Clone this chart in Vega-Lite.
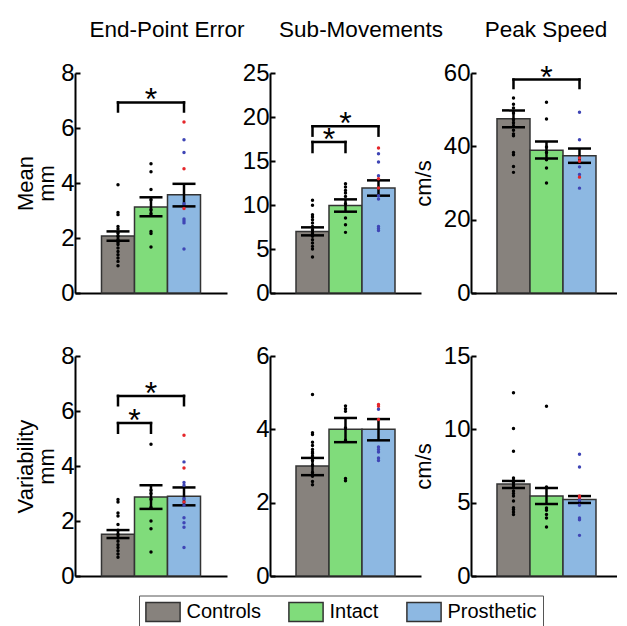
{
  "$schema": "https://vega.github.io/schema/vega-lite/v6.json",
  "padding": {"left": 14, "top": 18, "right": 0, "bottom": 0},
  "config": {
    "font": "Liberation Sans",
    "view": {"stroke": null},
    "axis": {"grid": false, "domainColor": "#000", "domainWidth": 2, "tickColor": "#000", "tickWidth": 2, "tickSize": -5, "labelPadding": 6, "labelColor": "#000", "labelFontSize": 24, "titleFontSize": 22, "titleFontWeight": "normal", "titleColor": "#000", "titleLineHeight": 21, "titlePadding": 2},
    "title": {"fontSize": 22.5, "fontWeight": "normal", "color": "#000", "anchor": "middle", "frame": "group", "offset": 20, "baseline": "alphabetic"}
  },
  "columns": 3,
  "spacing": {"row": 63, "column": 43},
  "bounds": "flush",
  "resolve": {"scale": {"x": "independent", "y": "independent", "fill": "independent", "color": "independent"}, "legend": {"fill": "independent", "color": "independent"}},
  "datasets": {
    "bars": [
      {"panel": "EPE_mean", "group": "Controls", "mean": 2.07, "lo": 1.90, "hi": 2.24},
      {"panel": "EPE_mean", "group": "Intact", "mean": 3.13, "lo": 2.79, "hi": 3.48},
      {"panel": "EPE_mean", "group": "Prosthetic", "mean": 3.57, "lo": 3.15, "hi": 3.97},
      {"panel": "SM_mean", "group": "Controls", "mean": 7.0, "lo": 6.55, "hi": 7.46},
      {"panel": "SM_mean", "group": "Intact", "mean": 9.95, "lo": 9.24, "hi": 10.64},
      {"panel": "SM_mean", "group": "Prosthetic", "mean": 11.93, "lo": 11.06, "hi": 12.8},
      {"panel": "PS_mean", "group": "Controls", "mean": 47.5, "lo": 45.2, "hi": 49.8},
      {"panel": "PS_mean", "group": "Intact", "mean": 38.9, "lo": 36.7, "hi": 41.35},
      {"panel": "PS_mean", "group": "Prosthetic", "mean": 37.4, "lo": 35.5, "hi": 39.4},
      {"panel": "EPE_var", "group": "Controls", "mean": 1.52, "lo": 1.38, "hi": 1.67},
      {"panel": "EPE_var", "group": "Intact", "mean": 2.87, "lo": 2.44, "hi": 3.30},
      {"panel": "EPE_var", "group": "Prosthetic", "mean": 2.9, "lo": 2.57, "hi": 3.22},
      {"panel": "SM_var", "group": "Controls", "mean": 3.0, "lo": 2.75, "hi": 3.22},
      {"panel": "SM_var", "group": "Intact", "mean": 4.0, "lo": 3.65, "hi": 4.31},
      {"panel": "SM_var", "group": "Prosthetic", "mean": 4.0, "lo": 3.70, "hi": 4.28},
      {"panel": "PS_var", "group": "Controls", "mean": 6.27, "lo": 6.0, "hi": 6.48},
      {"panel": "PS_var", "group": "Intact", "mean": 5.45, "lo": 4.91, "hi": 6.0},
      {"panel": "PS_var", "group": "Prosthetic", "mean": 5.21, "lo": 4.98, "hi": 5.45}
    ],
    "brackets": [
      {"panel": "EPE_mean", "from": "Controls", "to": "Prosthetic", "top": 6.93, "bottom": 6.60, "label": "*"},
      {"panel": "SM_mean", "from": "Controls", "to": "Prosthetic", "top": 18.94, "bottom": 17.88, "label": "*"},
      {"panel": "SM_mean", "from": "Controls", "to": "Intact", "top": 17.16, "bottom": 16.02, "label": "*"},
      {"panel": "PS_mean", "from": "Controls", "to": "Prosthetic", "top": 58.2, "bottom": 55.9, "label": "*"},
      {"panel": "EPE_var", "from": "Controls", "to": "Prosthetic", "top": 6.55, "bottom": 6.21, "label": "*"},
      {"panel": "EPE_var", "from": "Controls", "to": "Intact", "top": 5.56, "bottom": 5.21, "label": "*"}
    ],
    "dots": [
      {"panel": "EPE_mean", "group": "Controls", "cohort": "Controls", "value": 3.94},
      {"panel": "EPE_mean", "group": "Controls", "cohort": "Controls", "value": 2.93},
      {"panel": "EPE_mean", "group": "Controls", "cohort": "Controls", "value": 2.85},
      {"panel": "EPE_mean", "group": "Controls", "cohort": "Controls", "value": 2.42},
      {"panel": "EPE_mean", "group": "Controls", "cohort": "Controls", "value": 2.33},
      {"panel": "EPE_mean", "group": "Controls", "cohort": "Controls", "value": 2.18},
      {"panel": "EPE_mean", "group": "Controls", "cohort": "Controls", "value": 2.06},
      {"panel": "EPE_mean", "group": "Controls", "cohort": "Controls", "value": 1.94},
      {"panel": "EPE_mean", "group": "Controls", "cohort": "Controls", "value": 1.84},
      {"panel": "EPE_mean", "group": "Controls", "cohort": "Controls", "value": 1.76},
      {"panel": "EPE_mean", "group": "Controls", "cohort": "Controls", "value": 1.64},
      {"panel": "EPE_mean", "group": "Controls", "cohort": "Controls", "value": 1.51},
      {"panel": "EPE_mean", "group": "Controls", "cohort": "Controls", "value": 1.39},
      {"panel": "EPE_mean", "group": "Controls", "cohort": "Controls", "value": 1.27},
      {"panel": "EPE_mean", "group": "Controls", "cohort": "Controls", "value": 1.15},
      {"panel": "EPE_mean", "group": "Controls", "cohort": "Controls", "value": 0.99},
      {"panel": "EPE_mean", "group": "Intact", "cohort": "Intact", "value": 4.70},
      {"panel": "EPE_mean", "group": "Intact", "cohort": "Intact", "value": 4.41},
      {"panel": "EPE_mean", "group": "Intact", "cohort": "Intact", "value": 3.76},
      {"panel": "EPE_mean", "group": "Intact", "cohort": "Intact", "value": 3.39},
      {"panel": "EPE_mean", "group": "Intact", "cohort": "Intact", "value": 3.03},
      {"panel": "EPE_mean", "group": "Intact", "cohort": "Intact", "value": 2.88},
      {"panel": "EPE_mean", "group": "Intact", "cohort": "Intact", "value": 2.24},
      {"panel": "EPE_mean", "group": "Intact", "cohort": "Intact", "value": 2.16},
      {"panel": "EPE_mean", "group": "Intact", "cohort": "Intact", "value": 1.67},
      {"panel": "EPE_mean", "group": "Prosthetic", "cohort": "Prosthetic B", "value": 6.22},
      {"panel": "EPE_mean", "group": "Prosthetic", "cohort": "Prosthetic", "value": 5.57},
      {"panel": "EPE_mean", "group": "Prosthetic", "cohort": "Prosthetic", "value": 5.11},
      {"panel": "EPE_mean", "group": "Prosthetic", "cohort": "Prosthetic B", "value": 4.52},
      {"panel": "EPE_mean", "group": "Prosthetic", "cohort": "Prosthetic", "value": 3.25},
      {"panel": "EPE_mean", "group": "Prosthetic", "cohort": "Prosthetic B", "value": 3.07},
      {"panel": "EPE_mean", "group": "Prosthetic", "cohort": "Prosthetic", "value": 2.69},
      {"panel": "EPE_mean", "group": "Prosthetic", "cohort": "Prosthetic", "value": 2.62},
      {"panel": "EPE_mean", "group": "Prosthetic", "cohort": "Prosthetic", "value": 2.55},
      {"panel": "EPE_mean", "group": "Prosthetic", "cohort": "Prosthetic", "value": 1.60},
      {"panel": "SM_mean", "group": "Controls", "cohort": "Controls", "value": 10.53},
      {"panel": "SM_mean", "group": "Controls", "cohort": "Controls", "value": 9.96},
      {"panel": "SM_mean", "group": "Controls", "cohort": "Controls", "value": 8.90},
      {"panel": "SM_mean", "group": "Controls", "cohort": "Controls", "value": 8.64},
      {"panel": "SM_mean", "group": "Controls", "cohort": "Controls", "value": 8.33},
      {"panel": "SM_mean", "group": "Controls", "cohort": "Controls", "value": 7.95},
      {"panel": "SM_mean", "group": "Controls", "cohort": "Controls", "value": 7.57},
      {"panel": "SM_mean", "group": "Controls", "cohort": "Controls", "value": 7.19},
      {"panel": "SM_mean", "group": "Controls", "cohort": "Controls", "value": 6.82},
      {"panel": "SM_mean", "group": "Controls", "cohort": "Controls", "value": 6.44},
      {"panel": "SM_mean", "group": "Controls", "cohort": "Controls", "value": 6.06},
      {"panel": "SM_mean", "group": "Controls", "cohort": "Controls", "value": 5.68},
      {"panel": "SM_mean", "group": "Controls", "cohort": "Controls", "value": 5.30},
      {"panel": "SM_mean", "group": "Controls", "cohort": "Controls", "value": 5.00},
      {"panel": "SM_mean", "group": "Controls", "cohort": "Controls", "value": 4.09},
      {"panel": "SM_mean", "group": "Intact", "cohort": "Intact", "value": 12.42},
      {"panel": "SM_mean", "group": "Intact", "cohort": "Intact", "value": 12.05},
      {"panel": "SM_mean", "group": "Intact", "cohort": "Intact", "value": 11.66},
      {"panel": "SM_mean", "group": "Intact", "cohort": "Intact", "value": 11.36},
      {"panel": "SM_mean", "group": "Intact", "cohort": "Intact", "value": 10.98},
      {"panel": "SM_mean", "group": "Intact", "cohort": "Intact", "value": 10.15},
      {"panel": "SM_mean", "group": "Intact", "cohort": "Intact", "value": 8.52},
      {"panel": "SM_mean", "group": "Intact", "cohort": "Intact", "value": 7.76},
      {"panel": "SM_mean", "group": "Intact", "cohort": "Intact", "value": 6.89},
      {"panel": "SM_mean", "group": "Prosthetic", "cohort": "Prosthetic B", "value": 16.48},
      {"panel": "SM_mean", "group": "Prosthetic", "cohort": "Prosthetic", "value": 15.83},
      {"panel": "SM_mean", "group": "Prosthetic", "cohort": "Prosthetic", "value": 14.89},
      {"panel": "SM_mean", "group": "Prosthetic", "cohort": "Prosthetic", "value": 13.33},
      {"panel": "SM_mean", "group": "Prosthetic", "cohort": "Prosthetic B", "value": 12.99},
      {"panel": "SM_mean", "group": "Prosthetic", "cohort": "Prosthetic B", "value": 11.93},
      {"panel": "SM_mean", "group": "Prosthetic", "cohort": "Prosthetic", "value": 11.06},
      {"panel": "SM_mean", "group": "Prosthetic", "cohort": "Prosthetic", "value": 10.68},
      {"panel": "SM_mean", "group": "Prosthetic", "cohort": "Prosthetic", "value": 7.57},
      {"panel": "SM_mean", "group": "Prosthetic", "cohort": "Prosthetic", "value": 7.34},
      {"panel": "SM_mean", "group": "Prosthetic", "cohort": "Prosthetic", "value": 7.11},
      {"panel": "PS_mean", "group": "Controls", "cohort": "Controls", "value": 53.2},
      {"panel": "PS_mean", "group": "Controls", "cohort": "Controls", "value": 51.5},
      {"panel": "PS_mean", "group": "Controls", "cohort": "Controls", "value": 50.45},
      {"panel": "PS_mean", "group": "Controls", "cohort": "Controls", "value": 49.1},
      {"panel": "PS_mean", "group": "Controls", "cohort": "Controls", "value": 47.3},
      {"panel": "PS_mean", "group": "Controls", "cohort": "Controls", "value": 46.4},
      {"panel": "PS_mean", "group": "Controls", "cohort": "Controls", "value": 45.4},
      {"panel": "PS_mean", "group": "Controls", "cohort": "Controls", "value": 44.4},
      {"panel": "PS_mean", "group": "Controls", "cohort": "Controls", "value": 43.4},
      {"panel": "PS_mean", "group": "Controls", "cohort": "Controls", "value": 42.9},
      {"panel": "PS_mean", "group": "Controls", "cohort": "Controls", "value": 38.3},
      {"panel": "PS_mean", "group": "Controls", "cohort": "Controls", "value": 37.7},
      {"panel": "PS_mean", "group": "Controls", "cohort": "Controls", "value": 34.5},
      {"panel": "PS_mean", "group": "Controls", "cohort": "Controls", "value": 32.9},
      {"panel": "PS_mean", "group": "Intact", "cohort": "Intact", "value": 52.0},
      {"panel": "PS_mean", "group": "Intact", "cohort": "Intact", "value": 47.45},
      {"panel": "PS_mean", "group": "Intact", "cohort": "Intact", "value": 39.8},
      {"panel": "PS_mean", "group": "Intact", "cohort": "Intact", "value": 38.3},
      {"panel": "PS_mean", "group": "Intact", "cohort": "Intact", "value": 36.35},
      {"panel": "PS_mean", "group": "Intact", "cohort": "Intact", "value": 34.1},
      {"panel": "PS_mean", "group": "Intact", "cohort": "Intact", "value": 30.0},
      {"panel": "PS_mean", "group": "Prosthetic", "cohort": "Prosthetic", "value": 49.3},
      {"panel": "PS_mean", "group": "Prosthetic", "cohort": "Prosthetic", "value": 41.8},
      {"panel": "PS_mean", "group": "Prosthetic", "cohort": "Prosthetic B", "value": 36.8},
      {"panel": "PS_mean", "group": "Prosthetic", "cohort": "Prosthetic B", "value": 35.9},
      {"panel": "PS_mean", "group": "Prosthetic", "cohort": "Prosthetic", "value": 34.4},
      {"panel": "PS_mean", "group": "Prosthetic", "cohort": "Prosthetic", "value": 32.3},
      {"panel": "PS_mean", "group": "Prosthetic", "cohort": "Prosthetic B", "value": 31.6},
      {"panel": "PS_mean", "group": "Prosthetic", "cohort": "Prosthetic", "value": 28.6},
      {"panel": "EPE_var", "group": "Controls", "cohort": "Controls", "value": 2.78},
      {"panel": "EPE_var", "group": "Controls", "cohort": "Controls", "value": 2.69},
      {"panel": "EPE_var", "group": "Controls", "cohort": "Controls", "value": 2.29},
      {"panel": "EPE_var", "group": "Controls", "cohort": "Controls", "value": 2.18},
      {"panel": "EPE_var", "group": "Controls", "cohort": "Controls", "value": 1.87},
      {"panel": "EPE_var", "group": "Controls", "cohort": "Controls", "value": 1.66},
      {"panel": "EPE_var", "group": "Controls", "cohort": "Controls", "value": 1.51},
      {"panel": "EPE_var", "group": "Controls", "cohort": "Controls", "value": 1.38},
      {"panel": "EPE_var", "group": "Controls", "cohort": "Controls", "value": 1.26},
      {"panel": "EPE_var", "group": "Controls", "cohort": "Controls", "value": 1.14},
      {"panel": "EPE_var", "group": "Controls", "cohort": "Controls", "value": 1.04},
      {"panel": "EPE_var", "group": "Controls", "cohort": "Controls", "value": 0.92},
      {"panel": "EPE_var", "group": "Controls", "cohort": "Controls", "value": 0.80},
      {"panel": "EPE_var", "group": "Controls", "cohort": "Controls", "value": 0.68},
      {"panel": "EPE_var", "group": "Intact", "cohort": "Intact", "value": 4.79},
      {"panel": "EPE_var", "group": "Intact", "cohort": "Intact", "value": 3.12},
      {"panel": "EPE_var", "group": "Intact", "cohort": "Intact", "value": 3.00},
      {"panel": "EPE_var", "group": "Intact", "cohort": "Intact", "value": 2.79},
      {"panel": "EPE_var", "group": "Intact", "cohort": "Intact", "value": 2.49},
      {"panel": "EPE_var", "group": "Intact", "cohort": "Intact", "value": 2.00},
      {"panel": "EPE_var", "group": "Intact", "cohort": "Intact", "value": 1.72},
      {"panel": "EPE_var", "group": "Intact", "cohort": "Intact", "value": 0.87},
      {"panel": "EPE_var", "group": "Prosthetic", "cohort": "Prosthetic B", "value": 5.12},
      {"panel": "EPE_var", "group": "Prosthetic", "cohort": "Prosthetic", "value": 4.15},
      {"panel": "EPE_var", "group": "Prosthetic", "cohort": "Prosthetic B", "value": 3.93},
      {"panel": "EPE_var", "group": "Prosthetic", "cohort": "Prosthetic", "value": 3.40},
      {"panel": "EPE_var", "group": "Prosthetic", "cohort": "Prosthetic", "value": 3.30},
      {"panel": "EPE_var", "group": "Prosthetic", "cohort": "Prosthetic", "value": 2.81},
      {"panel": "EPE_var", "group": "Prosthetic", "cohort": "Prosthetic B", "value": 2.69},
      {"panel": "EPE_var", "group": "Prosthetic", "cohort": "Prosthetic", "value": 2.57},
      {"panel": "EPE_var", "group": "Prosthetic", "cohort": "Prosthetic", "value": 2.12},
      {"panel": "EPE_var", "group": "Prosthetic", "cohort": "Prosthetic", "value": 1.94},
      {"panel": "EPE_var", "group": "Prosthetic", "cohort": "Prosthetic", "value": 1.77},
      {"panel": "EPE_var", "group": "Prosthetic", "cohort": "Prosthetic", "value": 1.04},
      {"panel": "SM_var", "group": "Controls", "cohort": "Controls", "value": 4.95},
      {"panel": "SM_var", "group": "Controls", "cohort": "Controls", "value": 3.91},
      {"panel": "SM_var", "group": "Controls", "cohort": "Controls", "value": 3.86},
      {"panel": "SM_var", "group": "Controls", "cohort": "Controls", "value": 3.65},
      {"panel": "SM_var", "group": "Controls", "cohort": "Controls", "value": 3.56},
      {"panel": "SM_var", "group": "Controls", "cohort": "Controls", "value": 3.45},
      {"panel": "SM_var", "group": "Controls", "cohort": "Controls", "value": 3.38},
      {"panel": "SM_var", "group": "Controls", "cohort": "Controls", "value": 3.34},
      {"panel": "SM_var", "group": "Controls", "cohort": "Controls", "value": 3.27},
      {"panel": "SM_var", "group": "Controls", "cohort": "Controls", "value": 3.15},
      {"panel": "SM_var", "group": "Controls", "cohort": "Controls", "value": 3.02},
      {"panel": "SM_var", "group": "Controls", "cohort": "Controls", "value": 2.82},
      {"panel": "SM_var", "group": "Controls", "cohort": "Controls", "value": 2.72},
      {"panel": "SM_var", "group": "Controls", "cohort": "Controls", "value": 2.58},
      {"panel": "SM_var", "group": "Controls", "cohort": "Controls", "value": 2.49},
      {"panel": "SM_var", "group": "Intact", "cohort": "Intact", "value": 4.64},
      {"panel": "SM_var", "group": "Intact", "cohort": "Intact", "value": 4.56},
      {"panel": "SM_var", "group": "Intact", "cohort": "Intact", "value": 4.49},
      {"panel": "SM_var", "group": "Intact", "cohort": "Intact", "value": 4.04},
      {"panel": "SM_var", "group": "Intact", "cohort": "Intact", "value": 3.70},
      {"panel": "SM_var", "group": "Intact", "cohort": "Intact", "value": 2.66},
      {"panel": "SM_var", "group": "Intact", "cohort": "Intact", "value": 2.60},
      {"panel": "SM_var", "group": "Prosthetic", "cohort": "Prosthetic B", "value": 4.68},
      {"panel": "SM_var", "group": "Prosthetic", "cohort": "Prosthetic B", "value": 4.63},
      {"panel": "SM_var", "group": "Prosthetic", "cohort": "Prosthetic", "value": 4.55},
      {"panel": "SM_var", "group": "Prosthetic", "cohort": "Prosthetic B", "value": 4.27},
      {"panel": "SM_var", "group": "Prosthetic", "cohort": "Prosthetic", "value": 3.52},
      {"panel": "SM_var", "group": "Prosthetic", "cohort": "Prosthetic", "value": 3.45},
      {"panel": "SM_var", "group": "Prosthetic", "cohort": "Prosthetic", "value": 3.38},
      {"panel": "SM_var", "group": "Prosthetic", "cohort": "Prosthetic", "value": 3.22},
      {"panel": "SM_var", "group": "Prosthetic", "cohort": "Prosthetic", "value": 3.15},
      {"panel": "PS_var", "group": "Controls", "cohort": "Controls", "value": 12.5},
      {"panel": "PS_var", "group": "Controls", "cohort": "Controls", "value": 10.05},
      {"panel": "PS_var", "group": "Controls", "cohort": "Controls", "value": 8.5},
      {"panel": "PS_var", "group": "Controls", "cohort": "Controls", "value": 6.68},
      {"panel": "PS_var", "group": "Controls", "cohort": "Controls", "value": 6.52},
      {"panel": "PS_var", "group": "Controls", "cohort": "Controls", "value": 6.37},
      {"panel": "PS_var", "group": "Controls", "cohort": "Controls", "value": 6.18},
      {"panel": "PS_var", "group": "Controls", "cohort": "Controls", "value": 6.03},
      {"panel": "PS_var", "group": "Controls", "cohort": "Controls", "value": 5.79},
      {"panel": "PS_var", "group": "Controls", "cohort": "Controls", "value": 5.62},
      {"panel": "PS_var", "group": "Controls", "cohort": "Controls", "value": 5.45},
      {"panel": "PS_var", "group": "Controls", "cohort": "Controls", "value": 5.11},
      {"panel": "PS_var", "group": "Controls", "cohort": "Controls", "value": 4.66},
      {"panel": "PS_var", "group": "Controls", "cohort": "Controls", "value": 4.53},
      {"panel": "PS_var", "group": "Controls", "cohort": "Controls", "value": 4.36},
      {"panel": "PS_var", "group": "Controls", "cohort": "Controls", "value": 4.2},
      {"panel": "PS_var", "group": "Intact", "cohort": "Intact", "value": 11.57},
      {"panel": "PS_var", "group": "Intact", "cohort": "Intact", "value": 6.07},
      {"panel": "PS_var", "group": "Intact", "cohort": "Intact", "value": 4.64},
      {"panel": "PS_var", "group": "Intact", "cohort": "Intact", "value": 4.48},
      {"panel": "PS_var", "group": "Intact", "cohort": "Intact", "value": 4.2},
      {"panel": "PS_var", "group": "Intact", "cohort": "Intact", "value": 3.95},
      {"panel": "PS_var", "group": "Intact", "cohort": "Intact", "value": 3.34},
      {"panel": "PS_var", "group": "Prosthetic", "cohort": "Prosthetic", "value": 8.3},
      {"panel": "PS_var", "group": "Prosthetic", "cohort": "Prosthetic", "value": 7.43},
      {"panel": "PS_var", "group": "Prosthetic", "cohort": "Prosthetic B", "value": 5.45},
      {"panel": "PS_var", "group": "Prosthetic", "cohort": "Prosthetic B", "value": 5.34},
      {"panel": "PS_var", "group": "Prosthetic", "cohort": "Prosthetic", "value": 5.16},
      {"panel": "PS_var", "group": "Prosthetic", "cohort": "Prosthetic", "value": 4.82},
      {"panel": "PS_var", "group": "Prosthetic", "cohort": "Prosthetic", "value": 3.95},
      {"panel": "PS_var", "group": "Prosthetic", "cohort": "Prosthetic", "value": 3.84},
      {"panel": "PS_var", "group": "Prosthetic", "cohort": "Prosthetic", "value": 2.77}
    ]
  },
  "concat": [
    {
      "width": 152, "height": 220,
      "title": {"text": "End-Point Error", "dx": 16, "frame": "group"},
      "layer": [
        {"data": {"name": "bars"}, "transform": [{"filter": "datum.panel === 'EPE_mean'"}],
         "mark": {"type": "bar", "stroke": "#333", "strokeWidth": 1.5},
         "encoding": {
           "x": {"field": "group", "type": "nominal", "scale": {"domain": ["Controls", "Intact", "Prosthetic"], "paddingInner": 0, "paddingOuter": 0.803}, "axis": {"title": null, "labels": false, "tickSize": -4}},
           "y": {"field": "mean", "type": "quantitative", "scale": {"domain": [0, 8], "nice": false}, "axis": {"values": [0, 2, 4, 6, 8], "title": ["Mean", "mm"]}},
           "fill": {"field": "group", "type": "nominal", "scale": {"domain": ["Controls", "Intact", "Prosthetic"], "range": ["#87827d", "#80dc7b", "#8db8e2"]}, "legend": null}}},
        {"data": {"name": "bars"}, "transform": [{"filter": "datum.panel === 'EPE_mean'"}],
         "mark": {"type": "rule", "strokeWidth": 2.5, "color": "#000"},
         "encoding": {"x": {"field": "group", "type": "nominal"}, "y": {"field": "lo", "type": "quantitative"}, "y2": {"field": "hi"}}},
        {"data": {"name": "bars"}, "transform": [{"filter": "datum.panel === 'EPE_mean'"}],
         "mark": {"type": "tick", "thickness": 2.5, "size": 23, "color": "#000", "opacity": 1},
         "encoding": {"x": {"field": "group", "type": "nominal"}, "y": {"field": "lo", "type": "quantitative"}}},
        {"data": {"name": "bars"}, "transform": [{"filter": "datum.panel === 'EPE_mean'"}],
         "mark": {"type": "tick", "thickness": 2.5, "size": 23, "color": "#000", "opacity": 1},
         "encoding": {"x": {"field": "group", "type": "nominal"}, "y": {"field": "hi", "type": "quantitative"}}},
        {"data": {"name": "dots"}, "transform": [{"filter": "datum.panel === 'EPE_mean'"}],
         "mark": {"type": "circle", "size": 12, "opacity": 1},
         "encoding": {"x": {"field": "group", "type": "nominal"}, "y": {"field": "value", "type": "quantitative"},
           "color": {"field": "cohort", "type": "nominal", "scale": {"domain": ["Controls", "Intact", "Prosthetic", "Prosthetic B"], "range": ["#000000", "#000000", "#3f45b5", "#e5262a"]}, "legend": null}}},
        {"data": {"name": "brackets"}, "transform": [{"filter": "datum.panel === 'EPE_mean'"}],
         "mark": {"type": "rule", "strokeWidth": 2.5, "color": "#000", "strokeCap": "square"},
         "encoding": {"x": {"field": "from", "type": "nominal"}, "x2": {"field": "to"}, "y": {"field": "top", "type": "quantitative"}}},
        {"data": {"name": "brackets"}, "transform": [{"filter": "datum.panel === 'EPE_mean'"}],
         "mark": {"type": "rule", "strokeWidth": 2.5, "color": "#000", "strokeCap": "square"},
         "encoding": {"x": {"field": "from", "type": "nominal"}, "y": {"field": "bottom", "type": "quantitative"}, "y2": {"field": "top"}}},
        {"data": {"name": "brackets"}, "transform": [{"filter": "datum.panel === 'EPE_mean'"}],
         "mark": {"type": "rule", "strokeWidth": 2.5, "color": "#000", "strokeCap": "square"},
         "encoding": {"x": {"field": "to", "type": "nominal"}, "y": {"field": "bottom", "type": "quantitative"}, "y2": {"field": "top"}}},
        {"data": {"name": "brackets"}, "transform": [{"filter": "datum.panel === 'EPE_mean' && datum.to === 'Prosthetic'"}],
         "mark": {"type": "text", "fontSize": 32, "baseline": "alphabetic", "dy": 8},
         "encoding": {"x": {"datum": "Intact", "type": "nominal"}, "y": {"field": "top", "type": "quantitative"}, "text": {"field": "label"}}}
      ]
    },
    {
      "width": 158, "height": 220,
      "title": {"text": "Sub-Movements", "dx": 12, "frame": "group"},
      "layer": [
        {"data": {"name": "bars"}, "transform": [{"filter": "datum.panel === 'SM_mean'"}],
         "mark": {"type": "bar", "stroke": "#333", "strokeWidth": 1.5},
         "encoding": {
           "x": {"field": "group", "type": "nominal", "scale": {"domain": ["Controls", "Intact", "Prosthetic"], "range": [0, 151], "paddingInner": 0, "paddingOuter": 0.788}, "axis": {"title": null, "labels": false, "tickSize": -4}},
           "y": {"field": "mean", "type": "quantitative", "scale": {"domain": [0, 25], "nice": false}, "axis": {"values": [0, 5, 10, 15, 20, 25], "title": null}},
           "fill": {"field": "group", "type": "nominal", "scale": {"domain": ["Controls", "Intact", "Prosthetic"], "range": ["#87827d", "#80dc7b", "#8db8e2"]}, "legend": null}}},
        {"data": {"name": "bars"}, "transform": [{"filter": "datum.panel === 'SM_mean'"}],
         "mark": {"type": "rule", "strokeWidth": 2.5, "color": "#000"},
         "encoding": {"x": {"field": "group", "type": "nominal"}, "y": {"field": "lo", "type": "quantitative"}, "y2": {"field": "hi"}}},
        {"data": {"name": "bars"}, "transform": [{"filter": "datum.panel === 'SM_mean'"}],
         "mark": {"type": "tick", "thickness": 2.5, "size": 23, "color": "#000", "opacity": 1},
         "encoding": {"x": {"field": "group", "type": "nominal"}, "y": {"field": "lo", "type": "quantitative"}}},
        {"data": {"name": "bars"}, "transform": [{"filter": "datum.panel === 'SM_mean'"}],
         "mark": {"type": "tick", "thickness": 2.5, "size": 23, "color": "#000", "opacity": 1},
         "encoding": {"x": {"field": "group", "type": "nominal"}, "y": {"field": "hi", "type": "quantitative"}}},
        {"data": {"name": "dots"}, "transform": [{"filter": "datum.panel === 'SM_mean'"}],
         "mark": {"type": "circle", "size": 12, "opacity": 1},
         "encoding": {"x": {"field": "group", "type": "nominal"}, "y": {"field": "value", "type": "quantitative"},
           "color": {"field": "cohort", "type": "nominal", "scale": {"domain": ["Controls", "Intact", "Prosthetic", "Prosthetic B"], "range": ["#000000", "#000000", "#3f45b5", "#e5262a"]}, "legend": null}}},
        {"data": {"name": "brackets"}, "transform": [{"filter": "datum.panel === 'SM_mean'"}],
         "mark": {"type": "rule", "strokeWidth": 2.5, "color": "#000", "strokeCap": "square"},
         "encoding": {"x": {"field": "from", "type": "nominal"}, "x2": {"field": "to"}, "y": {"field": "top", "type": "quantitative"}}},
        {"data": {"name": "brackets"}, "transform": [{"filter": "datum.panel === 'SM_mean'"}],
         "mark": {"type": "rule", "strokeWidth": 2.5, "color": "#000", "strokeCap": "square"},
         "encoding": {"x": {"field": "from", "type": "nominal"}, "y": {"field": "bottom", "type": "quantitative"}, "y2": {"field": "top"}}},
        {"data": {"name": "brackets"}, "transform": [{"filter": "datum.panel === 'SM_mean'"}],
         "mark": {"type": "rule", "strokeWidth": 2.5, "color": "#000", "strokeCap": "square"},
         "encoding": {"x": {"field": "to", "type": "nominal"}, "y": {"field": "bottom", "type": "quantitative"}, "y2": {"field": "top"}}},
        {"data": {"name": "brackets"}, "transform": [{"filter": "datum.panel === 'SM_mean' && datum.to === 'Prosthetic'"}],
         "mark": {"type": "text", "fontSize": 32, "baseline": "alphabetic", "dy": 8},
         "encoding": {"x": {"datum": "Intact", "type": "nominal"}, "y": {"field": "top", "type": "quantitative"}, "text": {"field": "label"}}},
        {"data": {"name": "brackets"}, "transform": [{"filter": "datum.panel === 'SM_mean' && datum.to === 'Intact'"}],
         "mark": {"type": "text", "fontSize": 32, "baseline": "alphabetic", "dy": 8},
         "encoding": {"x": {"field": "from", "type": "nominal", "bandPosition": 1}, "y": {"field": "top", "type": "quantitative"}, "text": {"field": "label"}}}
      ]
    },
    {
      "width": 146, "height": 220,
      "title": {"text": "Peak Speed", "dx": 2, "frame": "group"},
      "layer": [
        {"data": {"name": "bars"}, "transform": [{"filter": "datum.panel === 'PS_mean'"}],
         "mark": {"type": "bar", "stroke": "#333", "strokeWidth": 1.5},
         "encoding": {
           "x": {"field": "group", "type": "nominal", "scale": {"domain": ["Controls", "Intact", "Prosthetic"], "paddingInner": 0, "paddingOuter": 0.712, "align": 0.553}, "axis": {"title": null, "labels": false, "tickSize": -4}},
           "y": {"field": "mean", "type": "quantitative", "scale": {"domain": [0, 60], "nice": false}, "axis": {"values": [0, 20, 40, 60], "title": "cm/s", "titlePadding": 8}},
           "fill": {"field": "group", "type": "nominal", "scale": {"domain": ["Controls", "Intact", "Prosthetic"], "range": ["#87827d", "#80dc7b", "#8db8e2"]}, "legend": null}}},
        {"data": {"name": "bars"}, "transform": [{"filter": "datum.panel === 'PS_mean'"}],
         "mark": {"type": "rule", "strokeWidth": 2.5, "color": "#000"},
         "encoding": {"x": {"field": "group", "type": "nominal"}, "y": {"field": "lo", "type": "quantitative"}, "y2": {"field": "hi"}}},
        {"data": {"name": "bars"}, "transform": [{"filter": "datum.panel === 'PS_mean'"}],
         "mark": {"type": "tick", "thickness": 2.5, "size": 23, "color": "#000", "opacity": 1},
         "encoding": {"x": {"field": "group", "type": "nominal"}, "y": {"field": "lo", "type": "quantitative"}}},
        {"data": {"name": "bars"}, "transform": [{"filter": "datum.panel === 'PS_mean'"}],
         "mark": {"type": "tick", "thickness": 2.5, "size": 23, "color": "#000", "opacity": 1},
         "encoding": {"x": {"field": "group", "type": "nominal"}, "y": {"field": "hi", "type": "quantitative"}}},
        {"data": {"name": "dots"}, "transform": [{"filter": "datum.panel === 'PS_mean'"}],
         "mark": {"type": "circle", "size": 12, "opacity": 1},
         "encoding": {"x": {"field": "group", "type": "nominal"}, "y": {"field": "value", "type": "quantitative"},
           "color": {"field": "cohort", "type": "nominal", "scale": {"domain": ["Controls", "Intact", "Prosthetic", "Prosthetic B"], "range": ["#000000", "#000000", "#3f45b5", "#e5262a"]}, "legend": null}}},
        {"data": {"name": "brackets"}, "transform": [{"filter": "datum.panel === 'PS_mean'"}],
         "mark": {"type": "rule", "strokeWidth": 2.5, "color": "#000", "strokeCap": "square"},
         "encoding": {"x": {"field": "from", "type": "nominal"}, "x2": {"field": "to"}, "y": {"field": "top", "type": "quantitative"}}},
        {"data": {"name": "brackets"}, "transform": [{"filter": "datum.panel === 'PS_mean'"}],
         "mark": {"type": "rule", "strokeWidth": 2.5, "color": "#000", "strokeCap": "square"},
         "encoding": {"x": {"field": "from", "type": "nominal"}, "y": {"field": "bottom", "type": "quantitative"}, "y2": {"field": "top"}}},
        {"data": {"name": "brackets"}, "transform": [{"filter": "datum.panel === 'PS_mean'"}],
         "mark": {"type": "rule", "strokeWidth": 2.5, "color": "#000", "strokeCap": "square"},
         "encoding": {"x": {"field": "to", "type": "nominal"}, "y": {"field": "bottom", "type": "quantitative"}, "y2": {"field": "top"}}},
        {"data": {"name": "brackets"}, "transform": [{"filter": "datum.panel === 'PS_mean' && datum.to === 'Prosthetic'"}],
         "mark": {"type": "text", "fontSize": 32, "baseline": "alphabetic", "dy": 8},
         "encoding": {"x": {"datum": "Intact", "type": "nominal"}, "y": {"field": "top", "type": "quantitative"}, "text": {"field": "label"}}}
      ]
    },
    {
      "width": 152, "height": 220,
      "layer": [
        {"data": {"name": "bars"}, "transform": [{"filter": "datum.panel === 'EPE_var'"}],
         "mark": {"type": "bar", "stroke": "#333", "strokeWidth": 1.5},
         "encoding": {
           "x": {"field": "group", "type": "nominal", "scale": {"domain": ["Controls", "Intact", "Prosthetic"], "paddingInner": 0, "paddingOuter": 0.803}, "axis": {"title": null, "labels": false, "tickSize": -4}},
           "y": {"field": "mean", "type": "quantitative", "scale": {"domain": [0, 8], "nice": false}, "axis": {"values": [0, 2, 4, 6, 8], "title": ["Variability", "mm"]}},
           "fill": {"field": "group", "type": "nominal", "scale": {"domain": ["Controls", "Intact", "Prosthetic"], "range": ["#87827d", "#80dc7b", "#8db8e2"]}, "legend": null}}},
        {"data": {"name": "bars"}, "transform": [{"filter": "datum.panel === 'EPE_var'"}],
         "mark": {"type": "rule", "strokeWidth": 2.5, "color": "#000"},
         "encoding": {"x": {"field": "group", "type": "nominal"}, "y": {"field": "lo", "type": "quantitative"}, "y2": {"field": "hi"}}},
        {"data": {"name": "bars"}, "transform": [{"filter": "datum.panel === 'EPE_var'"}],
         "mark": {"type": "tick", "thickness": 2.5, "size": 23, "color": "#000", "opacity": 1},
         "encoding": {"x": {"field": "group", "type": "nominal"}, "y": {"field": "lo", "type": "quantitative"}}},
        {"data": {"name": "bars"}, "transform": [{"filter": "datum.panel === 'EPE_var'"}],
         "mark": {"type": "tick", "thickness": 2.5, "size": 23, "color": "#000", "opacity": 1},
         "encoding": {"x": {"field": "group", "type": "nominal"}, "y": {"field": "hi", "type": "quantitative"}}},
        {"data": {"name": "dots"}, "transform": [{"filter": "datum.panel === 'EPE_var'"}],
         "mark": {"type": "circle", "size": 12, "opacity": 1},
         "encoding": {"x": {"field": "group", "type": "nominal"}, "y": {"field": "value", "type": "quantitative"},
           "color": {"field": "cohort", "type": "nominal", "scale": {"domain": ["Controls", "Intact", "Prosthetic", "Prosthetic B"], "range": ["#000000", "#000000", "#3f45b5", "#e5262a"]}, "legend": null}}},
        {"data": {"name": "brackets"}, "transform": [{"filter": "datum.panel === 'EPE_var'"}],
         "mark": {"type": "rule", "strokeWidth": 2.5, "color": "#000", "strokeCap": "square"},
         "encoding": {"x": {"field": "from", "type": "nominal"}, "x2": {"field": "to"}, "y": {"field": "top", "type": "quantitative"}}},
        {"data": {"name": "brackets"}, "transform": [{"filter": "datum.panel === 'EPE_var'"}],
         "mark": {"type": "rule", "strokeWidth": 2.5, "color": "#000", "strokeCap": "square"},
         "encoding": {"x": {"field": "from", "type": "nominal"}, "y": {"field": "bottom", "type": "quantitative"}, "y2": {"field": "top"}}},
        {"data": {"name": "brackets"}, "transform": [{"filter": "datum.panel === 'EPE_var'"}],
         "mark": {"type": "rule", "strokeWidth": 2.5, "color": "#000", "strokeCap": "square"},
         "encoding": {"x": {"field": "to", "type": "nominal"}, "y": {"field": "bottom", "type": "quantitative"}, "y2": {"field": "top"}}},
        {"data": {"name": "brackets"}, "transform": [{"filter": "datum.panel === 'EPE_var' && datum.to === 'Prosthetic'"}],
         "mark": {"type": "text", "fontSize": 32, "baseline": "alphabetic", "dy": 8},
         "encoding": {"x": {"datum": "Intact", "type": "nominal"}, "y": {"field": "top", "type": "quantitative"}, "text": {"field": "label"}}},
        {"data": {"name": "brackets"}, "transform": [{"filter": "datum.panel === 'EPE_var' && datum.to === 'Intact'"}],
         "mark": {"type": "text", "fontSize": 32, "baseline": "alphabetic", "dy": 8},
         "encoding": {"x": {"field": "from", "type": "nominal", "bandPosition": 1}, "y": {"field": "top", "type": "quantitative"}, "text": {"field": "label"}}}
      ]
    },
    {
      "width": 158, "height": 220,
      "layer": [
        {"data": {"name": "bars"}, "transform": [{"filter": "datum.panel === 'SM_var'"}],
         "mark": {"type": "bar", "stroke": "#333", "strokeWidth": 1.5},
         "encoding": {
           "x": {"field": "group", "type": "nominal", "scale": {"domain": ["Controls", "Intact", "Prosthetic"], "range": [0, 151], "paddingInner": 0, "paddingOuter": 0.788}, "axis": {"title": null, "labels": false, "tickSize": -4}},
           "y": {"field": "mean", "type": "quantitative", "scale": {"domain": [0, 6], "nice": false}, "axis": {"values": [0, 2, 4, 6], "title": null}},
           "fill": {"field": "group", "type": "nominal", "scale": {"domain": ["Controls", "Intact", "Prosthetic"], "range": ["#87827d", "#80dc7b", "#8db8e2"]},
             "legend": {"orient": "none", "legendX": -131, "legendY": 239.5, "direction": "horizontal", "title": null, "symbolType": "M-1.8,-1H1.8V1H-1.8Z", "symbolSize": 361, "symbolOffset": 7.5, "symbolStrokeColor": "#333", "symbolStrokeWidth": 1.5, "symbolOpacity": 1, "labelFontSize": 20, "labelColor": "#000", "labelOffset": 13, "columnPadding": 24, "padding": 6, "strokeColor": "#555", "fillColor": "#fff"}}}},
        {"data": {"name": "bars"}, "transform": [{"filter": "datum.panel === 'SM_var'"}],
         "mark": {"type": "rule", "strokeWidth": 2.5, "color": "#000"},
         "encoding": {"x": {"field": "group", "type": "nominal"}, "y": {"field": "lo", "type": "quantitative"}, "y2": {"field": "hi"}}},
        {"data": {"name": "bars"}, "transform": [{"filter": "datum.panel === 'SM_var'"}],
         "mark": {"type": "tick", "thickness": 2.5, "size": 23, "color": "#000", "opacity": 1},
         "encoding": {"x": {"field": "group", "type": "nominal"}, "y": {"field": "lo", "type": "quantitative"}}},
        {"data": {"name": "bars"}, "transform": [{"filter": "datum.panel === 'SM_var'"}],
         "mark": {"type": "tick", "thickness": 2.5, "size": 23, "color": "#000", "opacity": 1},
         "encoding": {"x": {"field": "group", "type": "nominal"}, "y": {"field": "hi", "type": "quantitative"}}},
        {"data": {"name": "dots"}, "transform": [{"filter": "datum.panel === 'SM_var'"}],
         "mark": {"type": "circle", "size": 12, "opacity": 1},
         "encoding": {"x": {"field": "group", "type": "nominal"}, "y": {"field": "value", "type": "quantitative"},
           "color": {"field": "cohort", "type": "nominal", "scale": {"domain": ["Controls", "Intact", "Prosthetic", "Prosthetic B"], "range": ["#000000", "#000000", "#3f45b5", "#e5262a"]}, "legend": null}}}
      ]
    },
    {
      "width": 146, "height": 220,
      "layer": [
        {"data": {"name": "bars"}, "transform": [{"filter": "datum.panel === 'PS_var'"}],
         "mark": {"type": "bar", "stroke": "#333", "strokeWidth": 1.5},
         "encoding": {
           "x": {"field": "group", "type": "nominal", "scale": {"domain": ["Controls", "Intact", "Prosthetic"], "paddingInner": 0, "paddingOuter": 0.712, "align": 0.553}, "axis": {"title": null, "labels": false, "tickSize": -4}},
           "y": {"field": "mean", "type": "quantitative", "scale": {"domain": [0, 15], "nice": false}, "axis": {"values": [0, 5, 10, 15], "title": "cm/s", "titlePadding": 8}},
           "fill": {"field": "group", "type": "nominal", "scale": {"domain": ["Controls", "Intact", "Prosthetic"], "range": ["#87827d", "#80dc7b", "#8db8e2"]}, "legend": null}}},
        {"data": {"name": "bars"}, "transform": [{"filter": "datum.panel === 'PS_var'"}],
         "mark": {"type": "rule", "strokeWidth": 2.5, "color": "#000"},
         "encoding": {"x": {"field": "group", "type": "nominal"}, "y": {"field": "lo", "type": "quantitative"}, "y2": {"field": "hi"}}},
        {"data": {"name": "bars"}, "transform": [{"filter": "datum.panel === 'PS_var'"}],
         "mark": {"type": "tick", "thickness": 2.5, "size": 23, "color": "#000", "opacity": 1},
         "encoding": {"x": {"field": "group", "type": "nominal"}, "y": {"field": "lo", "type": "quantitative"}}},
        {"data": {"name": "bars"}, "transform": [{"filter": "datum.panel === 'PS_var'"}],
         "mark": {"type": "tick", "thickness": 2.5, "size": 23, "color": "#000", "opacity": 1},
         "encoding": {"x": {"field": "group", "type": "nominal"}, "y": {"field": "hi", "type": "quantitative"}}},
        {"data": {"name": "dots"}, "transform": [{"filter": "datum.panel === 'PS_var'"}],
         "mark": {"type": "circle", "size": 12, "opacity": 1},
         "encoding": {"x": {"field": "group", "type": "nominal"}, "y": {"field": "value", "type": "quantitative"},
           "color": {"field": "cohort", "type": "nominal", "scale": {"domain": ["Controls", "Intact", "Prosthetic", "Prosthetic B"], "range": ["#000000", "#000000", "#3f45b5", "#e5262a"]}, "legend": null}}}
      ]
    }
  ]
}
